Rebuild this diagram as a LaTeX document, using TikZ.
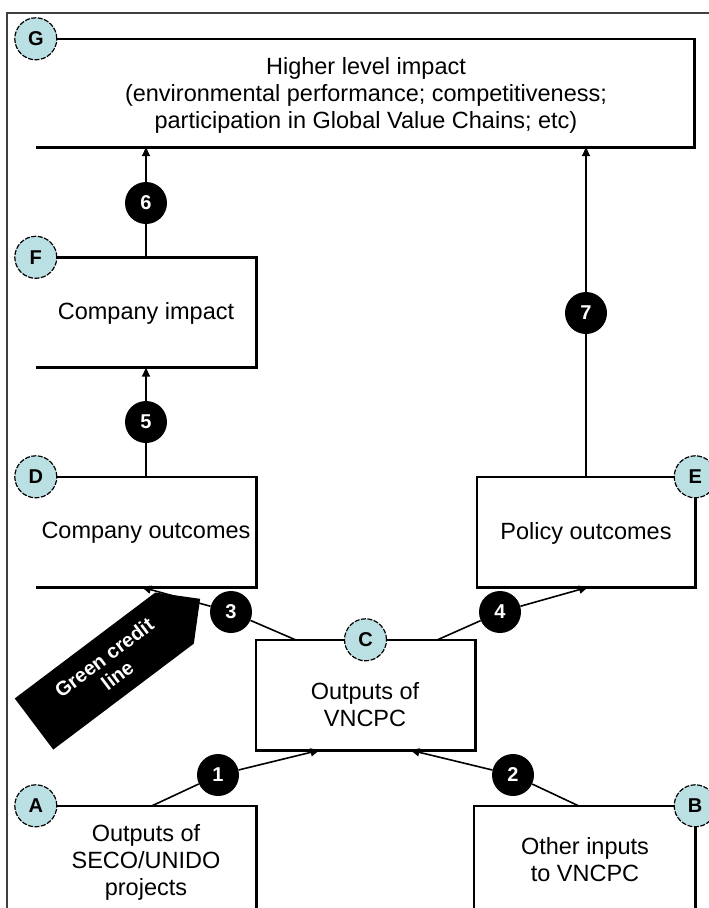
\documentclass[tikz,border=0pt]{standalone}
\usepackage{fontspec}
\setmainfont{Liberation Sans}
\usetikzlibrary{arrows.meta}
\definecolor{tagblue}{RGB}{187,224,227}

\begin{document}
\begin{tikzpicture}[x=1pt,y=-1pt,line join=miter,
  box/.style={inner sep=0,minimum width=#1,minimum height=110},
  boxline/.style={line width=2.6},
  tag/.style={circle,draw,line width=1.2,dash pattern=on 5pt off 1.5pt,fill=tagblue,
    inner sep=0,minimum size=42,font=\bfseries\fontsize{20}{20}\selectfont},
  num/.style={circle,fill=black,text=white,inner sep=0,minimum size=42,
    font=\bfseries\fontsize{20}{20}\selectfont},
  conn/.style={line width=1.6,-{Triangle[length=9pt,width=8pt]}},
  txt/.style={align=center,inner sep=0,font=\fontsize{23.5}{27}\selectfont}]
\useasboundingbox (0,0) rectangle (709,908);
\clip (0,0) rectangle (709,908);
\draw[line width=1.5,black!75] (7,930) -- (7,13) -- (730,13);
\node[box=658,minimum height=108] (g) at (365,93) {};
\node[box=220] (f) at (146,312.5) {};
\node[box=220] (d) at (146,532) {};
\node[box=218] (e) at (586,532) {};
\node[box=219] (c) at (365.5,695) {};
\node[box=220,minimum height=134] (a) at (146,873) {};
\node[box=221,minimum height=134] (b) at (584.5,873) {};
\draw[boxline] (g.north west) -- (g.north east) -- (g.south east) -- (g.south west);
\draw[boxline] (f.north west) -- (f.north east) -- (f.south east) -- (f.south west);
\draw[boxline] (d.north west) -- (d.north east) -- (d.south east) -- (d.south west);
\draw[boxline] (a.north west) -- (a.north east) -- (a.south east);
\draw[boxline] (e.north west) rectangle (e.south east);
\draw[boxline] (c.north west) rectangle (c.south east);
\draw[boxline] (b.south west) -- (b.north west) -- (b.north east) -- (b.south east);
\node[txt] (gtxt) at (366,95) {Higher level impact\\(environmental performance; competitiveness;\\participation in Global Value Chains; etc)};
\node[txt] (ftxt) at (146,313) {Company impact};
\node[txt] (dtxt) at (146,533) {Company outcomes};
\node[txt] (etxt) at (586,533) {Policy outcomes};
\node[txt] (ctxt) at (365,705) {Outputs of\\VNCPC};
\node[txt] (atxt) at (146,862) {Outputs of\\SECO/UNIDO\\projects};
\node[txt] (btxt) at (585,860) {Other inputs\\to VNCPC};
\node[num] (n1) at (218,775) {1};
\node[num] (n2) at (513,775) {2};
\node[num] (n3) at (231,612) {3};
\node[num] (n4) at (500,612) {4};
\node[num] (n5) at (146,422) {5};
\node[num] (n6) at (146,203) {6};
\node[num] (n7) at (586,313) {7};
\draw[conn] ([xshift=6]a.north) -- (n1) -- ([xshift=-46]c.south);
\draw[conn] ([xshift=-6]b.north) -- (n2) -- ([xshift=45]c.south);
\draw[conn] ([xshift=-70]c.north) -- (n3) -- ([xshift=-4]d.south);
\draw[conn] ([xshift=72]c.north) -- (n4) -- ([xshift=2]e.south);
\draw[conn] (d.north) -- (n5) -- (f.south);
\draw[conn] (f.north) -- (n6) -- (f.north |- g.south);
\draw[conn] (e.north) -- (n7) -- (e.north |- g.south);
\node[tag] (tg) at (g.north west) {G};
\node[tag] (tf) at (f.north west) {F};
\node[tag] (td) at (d.north west) {D};
\node[tag] (te) at (e.north east) {E};
\node[tag] (tc) at (c.north) {C};
\node[tag] (ta) at (a.north west) {A};
\node[tag] (tb) at (b.north east) {B};
\begin{scope}[shift={(34,724)},rotate=37]
\fill (0,-32) -- (176,-32) -- (208,0) -- (176,32) -- (0,32) -- cycle;
\node[rotate=37,align=center,text=white,inner sep=0,
  font=\bfseries\fontsize{20}{22}\selectfont] (gcl) at (96,0) {Green credit\\line};
\end{scope}
\end{tikzpicture}
\end{document}
